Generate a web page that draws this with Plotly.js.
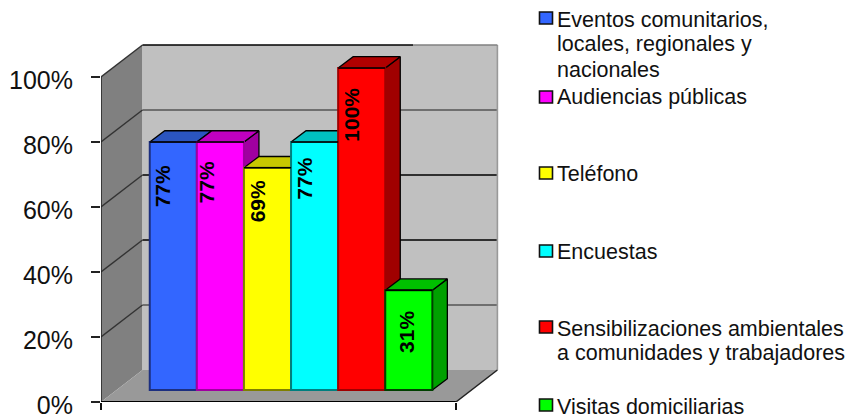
<!DOCTYPE html>
<html><head><meta charset="utf-8">
<script src="https://cdn.plot.ly/plotly-3.0.1.min.js"></script>
<style>html,body{margin:0;padding:0;background:#fff}</style></head>
<body><div id="chart" style="width:850px;height:417px"></div>
<script>
var categories = ["Eventos comunitarios, locales, regionales y nacionales","Audiencias públicas","Teléfono","Encuestas","Sensibilizaciones ambientales a comunidades y trabajadores","Visitas domiciliarias"];
var values = [77,77,69,77,100,31];
var valueLabels = ["77%","77%","69%","77%","100%","31%"];
var yTicks = [0,20,40,60,80,100];
var yTickText = ["0%","20%","40%","60%","80%","100%"];
var frontColors = ["#3366FF","#FF00FF","#FFFF00","#00FFFF","#FF0000","#00FF00"];
var edgeColors = ["#1C2F80","#A000A0","#7F7F00","#007F7F","#A00000","#004000"];
var topColors = ["#2B55C0","#C000C0","#C8C800","#00C0C0","#B00000","#00C000"];
var sideColors = ["#264CAD","#A000A0","#A0A000","#00A0A0","#A00000","#00A000"];
var gridColors = ["#666666","#555555","#000000","#000000","#555555","#000000"];
var labelShiftX = [-11,-14,-10,-11,-11,-3];
var labelShiftY = [-44,-40,-34,-37,-47,-42];
var legendLines = [
  ["Eventos comunitarios,",20],["locales, regionales y",44],["nacionales",70],
  ["Audiencias públicas",97],["Teléfono",174],["Encuestas",252],
  ["Sensibilizaciones ambientales",329],["a comunidades y trabajadores",353],["Visitas domiciliarias",407]];
var legendSwatchY = [18,97,173,251,327,405];

var W=850,H=417,L=101,T=40,R=500,B=402;
var pitch=47.1, cx0=173.3, unitF=3.25, unitB=3.22, baseOff=12;
var xmin=(L-cx0)/pitch, xmax=(R-cx0)/pitch, xFront=6;
var wDx=41.5/pitch, wDy=32/unitF;
var bDx=15/pitch, bDy=11.3/unitB;
var px=function(v){return (v-L)/(R-L)}, py=function(v){return (B-v)/(B-T)};
var idx=categories.map(function(c,i){return i});

var traces=[];
function poly(xs,ys,fill,line,lw,ya){
  traces.push({type:'scatter',mode:line?'lines':'none',x:xs,y:ys,xaxis:'x',yaxis:ya||'y',fill:'toself',fillcolor:fill,
    line:{color:line||fill,width:lw||0},hoverinfo:'skip',showlegend:false,cliponaxis:false});
}
function seg(xs,ys,color,w){
  traces.push({type:'scatter',mode:'lines',x:xs,y:ys,xaxis:'x',yaxis:'y',line:{color:color,width:w},hoverinfo:'skip',showlegend:false,cliponaxis:false});
}
var bx=xmin+wDx, xr=xFront+wDx;
poly([xmin,bx,bx,xmin,xmin],[0,wDy,100+wDy,100,0],'#808080');
poly([bx,xr,xr,bx,bx],[wDy,wDy,100+wDy,100+wDy,wDy],'#C0C0C0');
poly([xmin,xFront,xr,bx,xmin],[0,0,wDy,wDy,0],'#999999');
yTicks.forEach(function(t,i){
  if(t>0 && t<100) seg([bx,xr],[t+wDy,t+wDy],gridColors[i],1.6);
  if(t>0) seg([xmin,bx],[t,t+wDy],'#333333',1.4);
});
seg([xr,xr],[wDy,100+wDy],'#999999',1.6);
seg([bx,5.09],[100+wDy,100+wDy],'#000000',1.6);
seg([5.09,xr],[100+wDy,100+wDy],'#808080',1.6);
seg([xmin,xmin],[0,100],'#222222',1.5);
seg([xmin,xFront],[0,0],'#000000',2);
seg([xFront,xr],[0,wDy],'#222222',1.5);

idx.forEach(function(i){
  var v=values[i], a=i-.5, b=i+.5;
  poly([b,b,b+bDx,b+bDx,b],[0,v,v+bDy,bDy,0],sideColors[i],'#000000',1.3,'y2');
  poly([a,b,b+bDx,a+bDx,a],[v,v,v+bDy,v+bDy,v],topColors[i],'#000000',1.3,'y2');
});
traces.push({type:'bar',x:idx,y:values,width:1,xaxis:'x',yaxis:'y3',marker:{color:frontColors,line:{color:edgeColors,width:2}},hoverinfo:'skip',showlegend:false,cliponaxis:false});
traces.push({type:'scatter',mode:'lines',x:[-.5,.5,null,.5,1.5,null,1.5,2.5,null,2.5,3.5,null,3.5,4.5,null,4.5,5.5],
  y:[values[0],values[0],null,values[1],values[1],null,values[2],values[2],null,values[3],values[3],null,values[4],values[4],null,values[5],values[5]],
  xaxis:'x',yaxis:'y3',line:{color:'#000',width:1.6},hoverinfo:'skip',showlegend:false});

var annotations=idx.map(function(i){return {xref:'x',yref:'y3',x:i,y:values[i],text:valueLabels[i],showarrow:false,textangle:-90,
  xshift:labelShiftX[i],yshift:labelShiftY[i],xanchor:'center',yanchor:'middle',font:{family:'Liberation Sans',size:21,color:'#000',weight:700}}});
legendLines.forEach(function(l){annotations.push({xref:'paper',yref:'paper',x:px(555),y:py(l[1]),text:l[0],showarrow:false,xanchor:'left',yanchor:'middle',xshift:0,
  font:{family:'Liberation Sans',size:21.5,color:'#111'}})});
var shapes=legendSwatchY.map(function(y,i){return {type:'rect',xref:'paper',yref:'paper',x0:px(539.5),x1:px(552.5),y0:py(y-6),y1:py(y+6),fillcolor:frontColors[i],line:{color:'#111',width:1.6}}});

var yr=[-baseOff/unitB,(B-baseOff-T)/unitB];
Plotly.newPlot('chart',traces,{
  width:W,height:H,autosize:false,showlegend:false,paper_bgcolor:'#fff',plot_bgcolor:'rgba(0,0,0,0)',
  margin:{l:L,r:W-R,t:T,b:H-B,pad:0},
  xaxis:{range:[xmin,xmax],tickmode:'array',tickvals:[xmin,xFront],showticklabels:false,ticks:'outside',ticklen:7,tickwidth:2,tickcolor:'#111',showgrid:false,zeroline:false,showline:false},
  yaxis:{range:[0,(B-T)/unitF],tickmode:'array',tickvals:yTicks,ticktext:yTickText,ticks:'outside',ticklen:9,tickwidth:2,tickcolor:'#222',ticklabelstandoff:13,ticklabelshift:3,ticklabeloverflow:'allow',
    tickfont:{family:'Liberation Sans',size:25,color:'#111'},showgrid:false,zeroline:false,showline:false},
  yaxis2:{overlaying:'y',range:yr,visible:false},
  yaxis3:{overlaying:'y',range:yr,visible:false},
  annotations:annotations,shapes:shapes
},{displayModeBar:false,staticPlot:true});
</script></body></html>
